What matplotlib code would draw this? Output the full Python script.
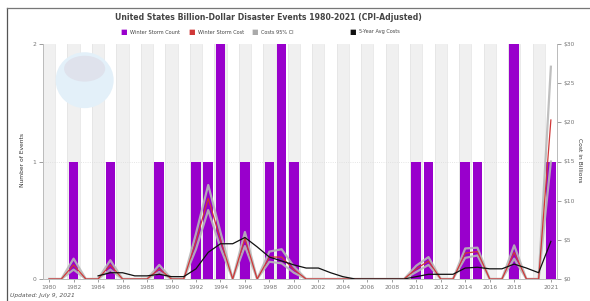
import matplotlib
matplotlib.use("Agg")
from matplotlib import pyplot as plt
from matplotlib.patches import Ellipse
from matplotlib.lines import Line2D
import numpy as np

years = list(range(1980, 2022))

storm_count = [0, 0, 1, 0, 0, 1, 0, 0, 0, 1,
               0, 0, 1, 1, 2, 0, 1, 0, 1, 2,
               1, 0, 0, 0, 0, 0, 0, 0, 0, 0,
               1, 1, 0, 0, 1, 1, 0, 0, 2, 0,
               0, 1]

storm_cost = [0, 0, 1.8, 0, 0, 1.8, 0, 0, 0, 1.3,
              0, 0, 4.8, 10.3, 5.0, 0, 5.2, 0, 2.8, 2.8,
              1.2, 0, 0, 0, 0, 0, 0, 0, 0, 0,
              1.3, 2.3, 0, 0, 3.3, 3.5, 0, 0, 3.4, 0,
              0, 20.3]

cost_upper = [0, 0, 2.6, 0, 0, 2.4, 0, 0, 0, 1.8,
              0, 0, 5.8, 12.0, 6.0, 0, 6.0, 0, 3.5, 3.8,
              1.6, 0, 0, 0, 0, 0, 0, 0, 0, 0,
              1.7, 2.8, 0, 0, 3.9, 4.0, 0, 0, 4.3, 0,
              0, 27.1]

cost_lower = [0, 0, 1.2, 0, 0, 1.2, 0, 0, 0, 0.9,
              0, 0, 3.8, 8.8, 4.0, 0, 4.2, 0, 2.2, 2.0,
              0.8, 0, 0, 0, 0, 0, 0, 0, 0, 0,
              0.9, 1.8, 0, 0, 2.7, 3.0, 0, 0, 2.6, 0,
              0, 15.0]

avg_years = list(range(1984, 2022))
avg_cost = [0.4, 0.8, 0.8, 0.4, 0.4, 0.6, 0.3, 0.3, 1.3, 3.4,
            4.5, 4.5, 5.3, 4.1, 2.8, 2.3, 1.8, 1.4, 1.4, 0.8,
            0.3, 0, 0, 0, 0, 0, 0.3, 0.6, 0.6, 0.6,
            1.4, 1.5, 1.3, 1.3, 1.9, 1.4, 0.8, 4.8]

xtick_years = list(range(1980, 2020, 2)) + [2021]
cost_ticks = [0, 5, 10, 15, 20, 25, 30]

W, H = 590, 301
fig = plt.figure(figsize=(W / 100, H / 100), dpi=100)
ax = fig.add_axes([43 / W, 1 - 279 / H, 514 / W, 235 / H])
ax2 = ax.twinx()

tick_col = '#777777'

# alternating year bands
for y in years:
    if y % 2 == 0:
        ax.axvspan(y - 0.5, y + 0.5, color='#f0f0f0', lw=0, zorder=0)
    ax.axvline(y - 0.5, color='#e2e2e2', lw=0.5, zorder=0.5)

ax.axhline(1, color='#dddddd', lw=0.6, ls=':', zorder=0.6)

# faint logo watermark
ax.add_patch(Ellipse((0.081, 0.846), 0.113, 0.238, transform=ax.transAxes,
                     color='#e3f0f9', lw=0, zorder=0.8))
ax.add_patch(Ellipse((0.081, 0.895), 0.08, 0.11, transform=ax.transAxes,
                     color='#dfe2ec', lw=0, zorder=0.9))

ax.bar(years, storm_count, width=0.78, color='#9900cc', zorder=2)

ax2.plot(years, cost_upper, color='#b8b8b8', lw=1.6, alpha=0.9)
ax2.plot(years, cost_lower, color='#b8b8b8', lw=1.6, alpha=0.9)
ax2.plot(years, storm_cost, color='#d03838', lw=0.9)
ax2.plot(avg_years, avg_cost, color='#111111', lw=0.9)

ax.set_xlim(1979.5, 2021.5)
ax.set_ylim(0, 2)
ax2.set_ylim(0, 30)
ax.set_yticks([0, 1, 2])
ax.set_xticks(xtick_years)
ax.set_xticklabels([str(y) for y in xtick_years])
ax2.set_yticks(cost_ticks)
ax2.set_yticklabels(['$%d' % v for v in cost_ticks])

for a in (ax, ax2):
    a.tick_params(labelsize=4.3, colors=tick_col, length=3, width=0.5, pad=2)
    a.spines['top'].set_visible(False)
    for s in ('left', 'right', 'bottom'):
        a.spines[s].set_color('#bbbbbb')
        a.spines[s].set_linewidth(0.6)
ax.tick_params(axis='x', length=2)

fig.text(22 / W, 1 - 160 / H, 'Number of Events', rotation=90, fontsize=4.3,
         color='#333333', ha='center', va='center')
fig.text(580 / W, 1 - 160 / H, 'Cost in Billions', rotation=270, fontsize=4.3,
         color='#333333', ha='center', va='center')

fig.text(268 / W, 1 - 17 / H,
         'United States Billion-Dollar Disaster Events 1980-2021 (CPI-Adjusted)',
         fontsize=5.6, fontweight='bold', color='#444444', ha='center', va='center')

legend_items = [('Winter Storm Count', '#9900cc', 124),
                ('Winter Storm Cost', '#d03838', 192),
                ('Costs 95% CI', '#aaaaaa', 255),
                ('5-Year Avg Costs', '#111111', 353)]
for label, col, px in legend_items:
    fig.text(px / W, 1 - 32 / H, '\u25a0', fontsize=5, color=col,
             ha='center', va='center')
    fig.text((px + 6) / W, 1 - 32 / H, label, fontsize=3.6, color='#444444',
             ha='left', va='center')

fig.text(10 / W, 1 - 296 / H, 'Updated: July 9, 2021', fontsize=4.3,
         style='italic', color='#555555', ha='left', va='center')

# outer frame lines
fig.add_artist(Line2D([7 / W, 7 / W], [0, 1 - 8 / H], color='#555555', lw=0.9))
fig.add_artist(Line2D([7 / W, 1], [1 - 8 / H, 1 - 8 / H], color='#777777', lw=0.9))

fig.savefig('out.png', dpi=100)
